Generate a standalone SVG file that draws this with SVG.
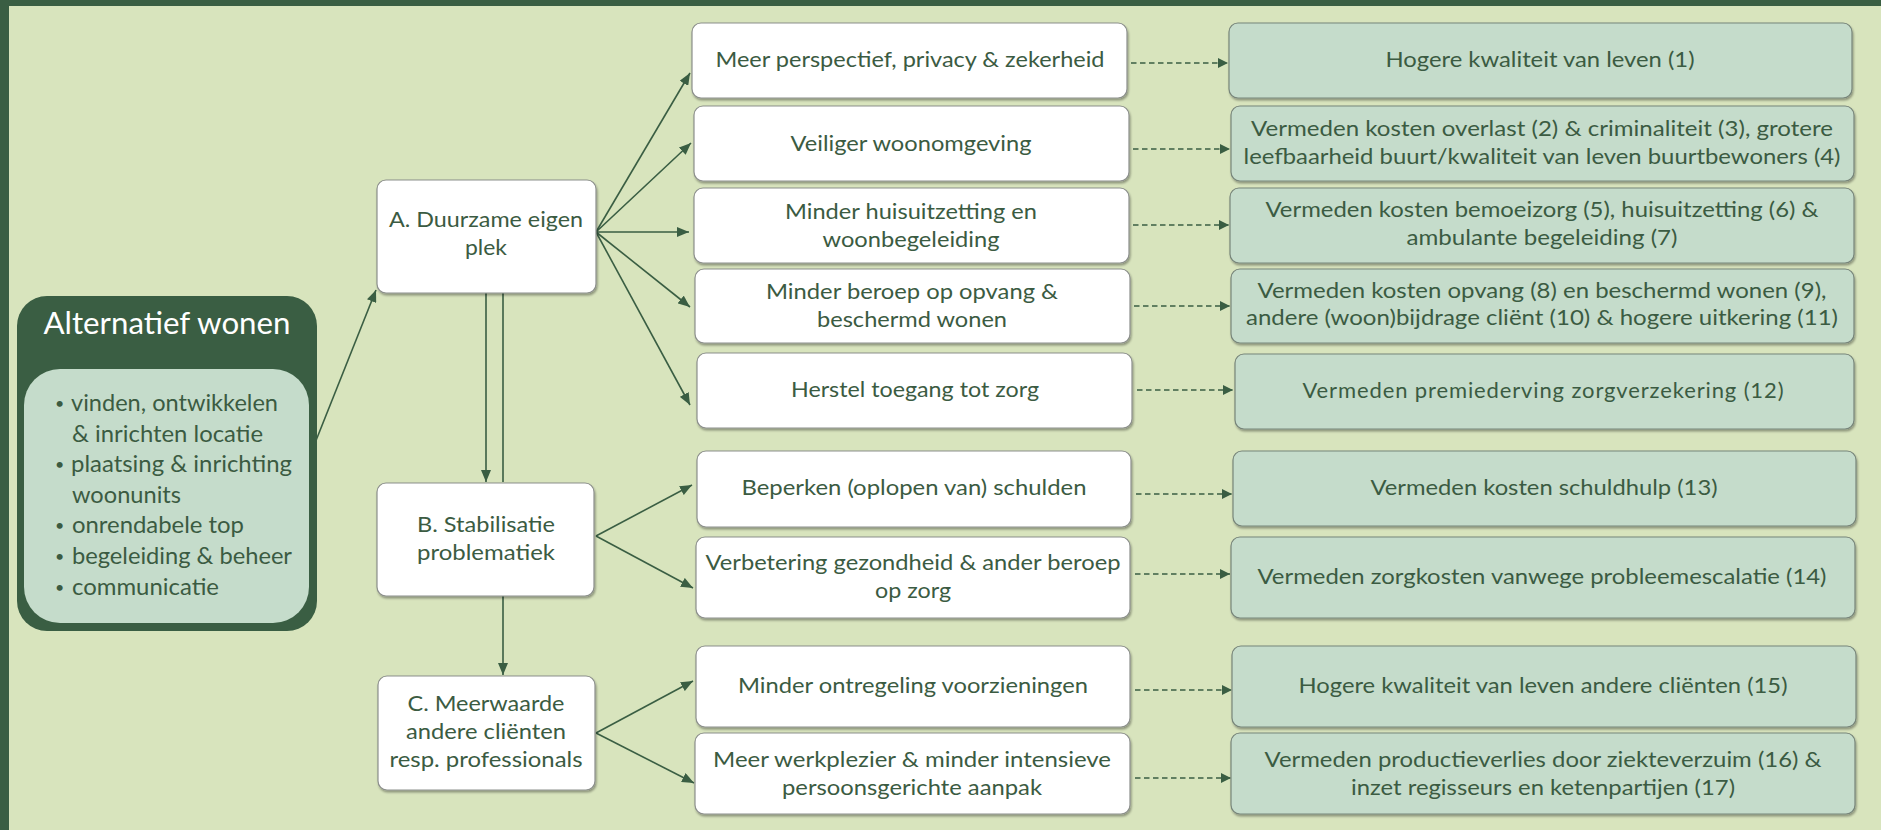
<svg xmlns="http://www.w3.org/2000/svg" width="1881" height="830" viewBox="0 0 1881 830">
<defs>
<style>
.t{font-family:Lato,"Open Sans","Liberation Sans",sans-serif;font-size:22px;fill:#3b5b42;text-anchor:middle}
.mid{fill:#ffffff;stroke:#8c8f8c;stroke-width:1.2}
.res{fill:#c5dccb;stroke:#77857a;stroke-width:1.2}
.c{stroke:#3a5e43;stroke-width:1.6;fill:none}
.d{stroke:#3a5e43;stroke-width:1.6;fill:none;stroke-dasharray:5.5 3.5}
.b{font-family:Lato,"Open Sans","Liberation Sans",sans-serif;font-size:22.5px;fill:#3b5b42}
.bu{font-family:Lato,"Open Sans","Liberation Sans",sans-serif;font-size:16px;fill:#3b5b42}
</style>
<filter id="sh" x="-5%" y="-10%" width="110%" height="130%">
<feDropShadow dx="1" dy="2" stdDeviation="1.3" flood-color="#000" flood-opacity="0.35"/>
</filter>
<marker id="ah" viewBox="0 0 12 10" refX="12" refY="5" markerWidth="12" markerHeight="10" orient="auto" markerUnits="userSpaceOnUse">
<path d="M0,0 L12,5 L0,10 z" fill="#3a5e43"/>
</marker>
<marker id="ahd" viewBox="0 0 10 10" refX="10" refY="5" markerWidth="10" markerHeight="10" orient="auto" markerUnits="userSpaceOnUse">
<path d="M0,0 L10,5 L0,10 z" fill="#3a5e43"/>
</marker>
</defs>
<rect x="0" y="0" width="1881" height="830" fill="#d8e4bd"/>
<rect x="0" y="0" width="1881" height="6" fill="#3a5e43"/>
<rect x="0" y="0" width="9" height="830" fill="#3a5e43"/>

<g id="connectors">
<line class="c" x1="315" y1="443" x2="376" y2="290" marker-end="url(#ah)"/>
<line class="c" x1="596" y1="232" x2="690" y2="73" marker-end="url(#ah)"/>
<line class="c" x1="596" y1="232" x2="691" y2="143" marker-end="url(#ah)"/>
<line class="c" x1="596" y1="232" x2="689" y2="232" marker-end="url(#ah)"/>
<line class="c" x1="596" y1="232" x2="690" y2="307" marker-end="url(#ah)"/>
<line class="c" x1="596" y1="232" x2="690" y2="405" marker-end="url(#ah)"/>
<line class="c" x1="486" y1="293" x2="486" y2="482" marker-end="url(#ah)"/>
<line class="c" x1="503" y1="482" x2="503" y2="293"/>
<line class="c" x1="503" y1="596" x2="503" y2="675" marker-end="url(#ah)"/>
<line class="c" x1="596" y1="536" x2="692" y2="485" marker-end="url(#ah)"/>
<line class="c" x1="596" y1="536" x2="693" y2="588" marker-end="url(#ah)"/>
<line class="c" x1="596" y1="733" x2="693" y2="681" marker-end="url(#ah)"/>
<line class="c" x1="596" y1="733" x2="694" y2="783" marker-end="url(#ah)"/>
<line class="d" x1="1131" y1="63" x2="1228" y2="63" marker-end="url(#ahd)"/>
<line class="d" x1="1133" y1="149" x2="1230" y2="149" marker-end="url(#ahd)"/>
<line class="d" x1="1133" y1="225" x2="1229" y2="225" marker-end="url(#ahd)"/>
<line class="d" x1="1134" y1="306" x2="1230" y2="306" marker-end="url(#ahd)"/>
<line class="d" x1="1137" y1="390" x2="1233" y2="390" marker-end="url(#ahd)"/>
<line class="d" x1="1136" y1="494" x2="1232" y2="494" marker-end="url(#ahd)"/>
<line class="d" x1="1135" y1="574" x2="1230" y2="574" marker-end="url(#ahd)"/>
<line class="d" x1="1135" y1="690" x2="1232" y2="690" marker-end="url(#ahd)"/>
<line class="d" x1="1135" y1="778" x2="1231" y2="778" marker-end="url(#ahd)"/>
</g>

<g id="alternatief">
<rect x="17" y="296" width="300" height="335" rx="30" fill="#3a5e43"/>
<rect x="24" y="369" width="285" height="254" rx="36" fill="#c5dccb"/>
<text x="167" y="334" font-family="Lato,'Open Sans','Liberation Sans',sans-serif" font-size="30" fill="#ffffff" text-anchor="middle" textLength="247" lengthAdjust="spacingAndGlyphs">Alternatief wonen</text>
<text class="bu"><tspan x="55" y="409">•</tspan><tspan x="55" y="470">•</tspan><tspan x="55" y="531">•</tspan><tspan x="55" y="562">•</tspan><tspan x="55" y="593">•</tspan></text>
<text class="b" x="71" y="411" textLength="207" lengthAdjust="spacingAndGlyphs">vinden, ontwikkelen</text>
<text class="b" x="72" y="442" textLength="191" lengthAdjust="spacingAndGlyphs">&amp; inrichten locatie</text>
<text class="b" x="71" y="472" textLength="221" lengthAdjust="spacingAndGlyphs">plaatsing &amp; inrichting</text>
<text class="b" x="72" y="503" textLength="109" lengthAdjust="spacingAndGlyphs">woonunits</text>
<text class="b" x="72" y="533" textLength="172" lengthAdjust="spacingAndGlyphs">onrendabele top</text>
<text class="b" x="72" y="564" textLength="220" lengthAdjust="spacingAndGlyphs">begeleiding &amp; beheer</text>
<text class="b" x="72" y="595" textLength="147" lengthAdjust="spacingAndGlyphs">communicatie</text>
</g>

<g id="nodeA">
<rect class="mid" filter="url(#sh)" x="377" y="180" width="219" height="113" rx="9"/>
<text class="t" x="486" y="227" textLength="194" lengthAdjust="spacingAndGlyphs">A. Duurzame eigen</text>
<text class="t" x="486" y="255" textLength="42" lengthAdjust="spacingAndGlyphs">plek</text>
</g>
<g id="nodeB">
<rect class="mid" filter="url(#sh)" x="377" y="483" width="217" height="113" rx="9"/>
<text class="t" x="486" y="532" textLength="138" lengthAdjust="spacingAndGlyphs">B. Stabilisatie</text>
<text class="t" x="486" y="560" textLength="138" lengthAdjust="spacingAndGlyphs">problematiek</text>
</g>
<g id="nodeC">
<rect class="mid" filter="url(#sh)" x="378" y="676" width="217" height="114" rx="9"/>
<text class="t" x="486" y="711" textLength="157" lengthAdjust="spacingAndGlyphs">C. Meerwaarde</text>
<text class="t" x="486" y="739" textLength="160" lengthAdjust="spacingAndGlyphs">andere cliënten</text>
<text class="t" x="486" y="767" textLength="193" lengthAdjust="spacingAndGlyphs">resp. professionals</text>
</g>

<g id="m1"><rect class="mid" filter="url(#sh)" x="692" y="23" width="435" height="75" rx="9"/><text class="t" x="910" y="67" textLength="389" lengthAdjust="spacingAndGlyphs">Meer perspectief, privacy &amp; zekerheid</text></g>
<g id="m2"><rect class="mid" filter="url(#sh)" x="694" y="106" width="435" height="75" rx="9"/><text class="t" x="911" y="151" textLength="241" lengthAdjust="spacingAndGlyphs">Veiliger woonomgeving</text></g>
<g id="m3"><rect class="mid" filter="url(#sh)" x="694" y="188" width="435" height="75" rx="9"/><text class="t" x="911" y="219" textLength="252" lengthAdjust="spacingAndGlyphs">Minder huisuitzetting en</text><text class="t" x="911" y="247" textLength="177" lengthAdjust="spacingAndGlyphs">woonbegeleiding</text></g>
<g id="m4"><rect class="mid" filter="url(#sh)" x="695" y="269" width="435" height="74" rx="9"/><text class="t" x="912" y="299" textLength="292" lengthAdjust="spacingAndGlyphs">Minder beroep op opvang &amp;</text><text class="t" x="912" y="327" textLength="190" lengthAdjust="spacingAndGlyphs">beschermd wonen</text></g>
<g id="m5"><rect class="mid" filter="url(#sh)" x="697" y="353" width="435" height="75" rx="9"/><text class="t" x="915" y="397" textLength="248" lengthAdjust="spacingAndGlyphs">Herstel toegang tot zorg</text></g>
<g id="m6"><rect class="mid" filter="url(#sh)" x="697" y="451" width="434" height="76" rx="9"/><text class="t" x="914" y="495" textLength="345" lengthAdjust="spacingAndGlyphs">Beperken (oplopen van) schulden</text></g>
<g id="m7"><rect class="mid" filter="url(#sh)" x="696" y="537" width="434" height="81" rx="9"/><text class="t" x="913" y="570" textLength="415" lengthAdjust="spacingAndGlyphs">Verbetering gezondheid &amp; ander beroep</text><text class="t" x="913" y="598" textLength="76" lengthAdjust="spacingAndGlyphs">op zorg</text></g>
<g id="m8"><rect class="mid" filter="url(#sh)" x="696" y="646" width="434" height="81" rx="9"/><text class="t" x="913" y="693" textLength="350" lengthAdjust="spacingAndGlyphs">Minder ontregeling voorzieningen</text></g>
<g id="m9"><rect class="mid" filter="url(#sh)" x="695" y="733" width="435" height="81" rx="9"/><text class="t" x="912" y="767" textLength="398" lengthAdjust="spacingAndGlyphs">Meer werkplezier &amp; minder intensieve</text><text class="t" x="912" y="795" textLength="260" lengthAdjust="spacingAndGlyphs">persoonsgerichte aanpak</text></g>

<g id="r1"><rect class="res" filter="url(#sh)" x="1229" y="23" width="623" height="75" rx="9"/><text class="t" x="1540" y="67" textLength="309" lengthAdjust="spacingAndGlyphs">Hogere kwaliteit van leven (1)</text></g>
<g id="r2"><rect class="res" filter="url(#sh)" x="1231" y="106" width="623" height="75" rx="9"/><text class="t" x="1542" y="136" textLength="582" lengthAdjust="spacingAndGlyphs">Vermeden kosten overlast (2) &amp; criminaliteit (3), grotere</text><text class="t" x="1542" y="164" textLength="597" lengthAdjust="spacingAndGlyphs">leefbaarheid buurt/kwaliteit van leven buurtbewoners (4)</text></g>
<g id="r3"><rect class="res" filter="url(#sh)" x="1230" y="188" width="624" height="75" rx="9"/><text class="t" x="1542" y="217" textLength="553" lengthAdjust="spacingAndGlyphs">Vermeden kosten bemoeizorg (5), huisuitzetting (6) &amp;</text><text class="t" x="1542" y="245" textLength="271" lengthAdjust="spacingAndGlyphs">ambulante begeleiding (7)</text></g>
<g id="r4"><rect class="res" filter="url(#sh)" x="1231" y="269" width="623" height="74" rx="9"/><text class="t" x="1542" y="298" textLength="569" lengthAdjust="spacingAndGlyphs">Vermeden kosten opvang (8) en beschermd wonen (9),</text><text class="t" x="1542" y="325" textLength="592" lengthAdjust="spacingAndGlyphs">andere (woon)bijdrage cliënt (10) &amp; hogere uitkering (11)</text></g>
<g id="r5"><rect class="res" filter="url(#sh)" x="1235" y="354" width="619" height="75" rx="9"/><text class="t" x="1543" y="398" textLength="481">Vermeden premiederving zorgverzekering (12)</text></g>
<g id="r6"><rect class="res" filter="url(#sh)" x="1233" y="451" width="623" height="75" rx="9"/><text class="t" x="1544" y="495" textLength="347" lengthAdjust="spacingAndGlyphs">Vermeden kosten schuldhulp (13)</text></g>
<g id="r7"><rect class="res" filter="url(#sh)" x="1231" y="537" width="624" height="81" rx="9"/><text class="t" x="1542" y="584" textLength="569" lengthAdjust="spacingAndGlyphs">Vermeden zorgkosten vanwege probleemescalatie (14)</text></g>
<g id="r8"><rect class="res" filter="url(#sh)" x="1232" y="646" width="624" height="81" rx="9"/><text class="t" x="1543" y="693" textLength="489" lengthAdjust="spacingAndGlyphs">Hogere kwaliteit van leven andere cliënten (15)</text></g>
<g id="r9"><rect class="res" filter="url(#sh)" x="1231" y="733" width="624" height="81" rx="9"/><text class="t" x="1543" y="767" textLength="557" lengthAdjust="spacingAndGlyphs">Vermeden productieverlies door ziekteverzuim (16) &amp;</text><text class="t" x="1543" y="795" textLength="384" lengthAdjust="spacingAndGlyphs">inzet regisseurs en ketenpartijen (17)</text></g>
</svg>
